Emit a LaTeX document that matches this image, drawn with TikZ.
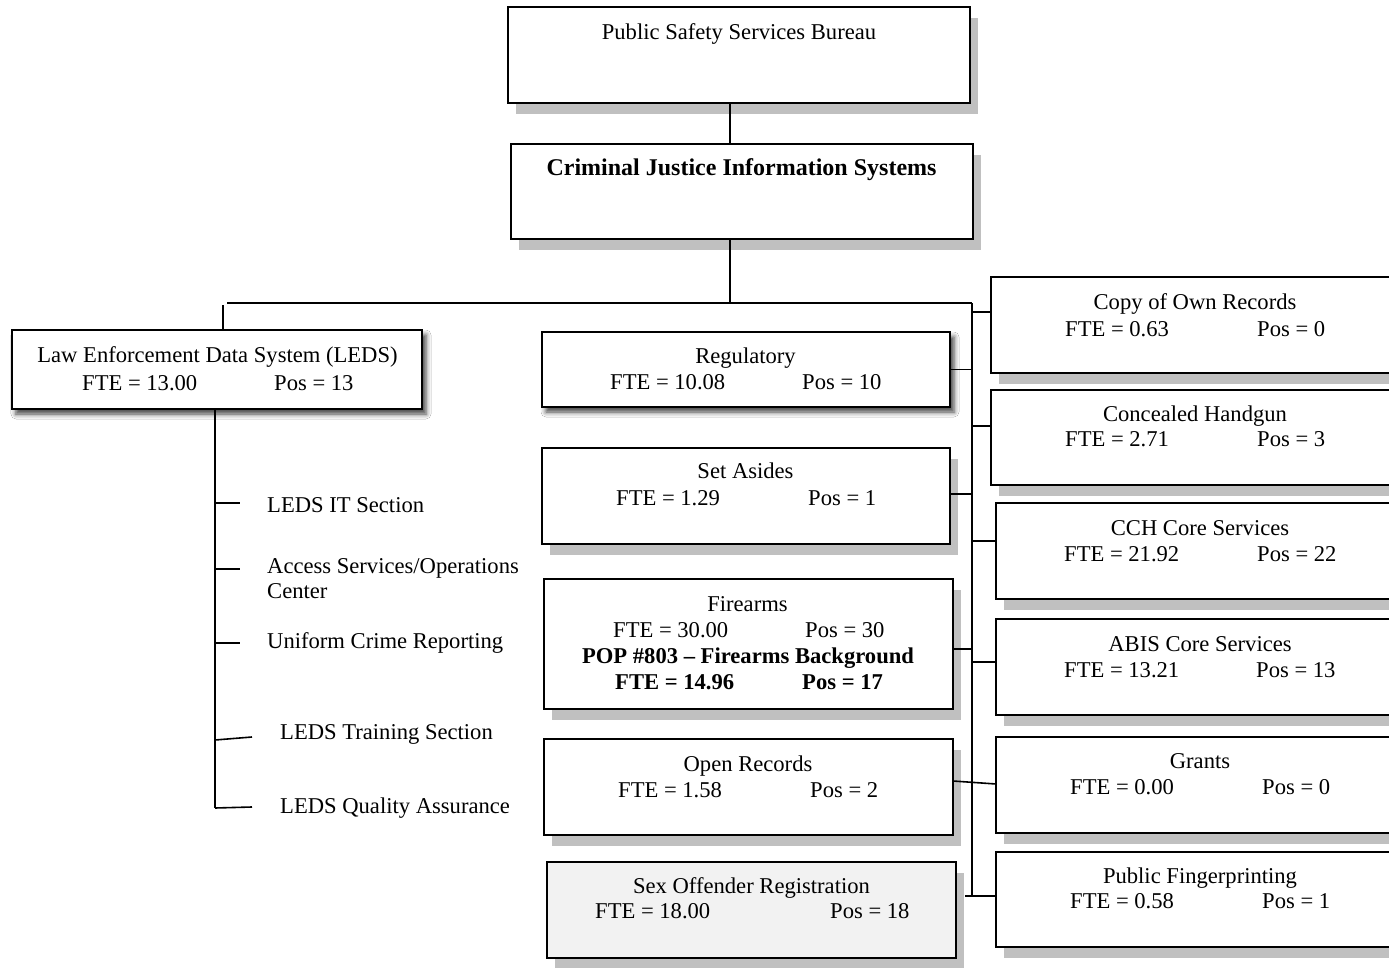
\documentclass[tikz,border=0pt]{standalone}
\usepackage{fontspec}
\setmainfont{Liberation Serif}
\usetikzlibrary{shadows,shadows.blur}
\definecolor{shadowgrey}{HTML}{C0C0C0}
\definecolor{sorfill}{HTML}{F2F2F2}
\tikzset{
  orgframe/.style={draw, line width=1.8pt, fill=white, inner sep=0pt, outer sep=0pt},
  hardshadow/.style={general shadow={fill=shadowgrey, shadow xshift=8pt, shadow yshift=-11pt}},
  softshadow/.style={blur shadow={shadow xshift=4pt, shadow yshift=-5pt, shadow blur radius=5pt, shadow opacity=75}},
  conn/.style={line width=1.6pt},
  lbl/.style={anchor=base, inner sep=0pt, font=\fontsize{22.6}{26}\selectfont},
  lblw/.style={lbl, anchor=base west},
  bold/.style={font=\fontsize{22.6}{26}\selectfont\bfseries},
}
\newcommand\orgbox[6]{\node[orgframe,#6,minimum width={#4-#2},minimum height={#5-#3}] (#1) at ({(#2+#4)/2},{(#3+#5)/2}) {};}
\begin{document}
\begin{tikzpicture}[x=1pt,y=-1pt]
\useasboundingbox (0,0) rectangle (1389,968);
\clip (0,0) rectangle (1389,968);
\fill[white] (0,0) rectangle (1389,968);

% boxes
\orgbox{psb}{508}{7}{970}{103}{hardshadow}
\orgbox{cjis}{511}{144}{973}{239}{hardshadow}
\orgbox{leds}{12}{330}{422}{409}{softshadow}
\orgbox{reg}{542}{332}{950}{407}{softshadow}
\orgbox{set}{542}{448}{950}{544}{hardshadow}
\orgbox{fire}{544}{579}{953}{709}{hardshadow}
\orgbox{open}{544}{739}{953}{835}{hardshadow}
\orgbox{sor}{547}{862}{956}{958}{hardshadow,fill=sorfill}
\orgbox{copy}{991}{277}{1420}{373}{hardshadow}
\orgbox{chl}{991}{390}{1420}{485}{hardshadow}
\orgbox{cch}{996}{503}{1420}{599}{hardshadow}
\orgbox{abis}{996}{619}{1420}{715}{hardshadow}
\orgbox{grants}{996}{737}{1420}{833}{hardshadow}
\orgbox{pf}{996}{852}{1420}{947}{hardshadow}

% named coordinates for connector routing
\coordinate (topx) at (730,303);
\coordinate (busTop) at (972,303);
\coordinate (busBot) at (972,896);
\coordinate (hStart) at (227,303);
\coordinate (ledsDrop) at (223,305);
\coordinate (ledsSpine) at (215,409);
\coordinate (ledsEnd) at (215,808);
\coordinate (tIT) at (240,503);
\coordinate (tAS) at (240,569);
\coordinate (tUC) at (240,643);
\coordinate (tTR) at (252,737);
\coordinate (tQA) at (252,807);

% connectors
\draw[conn] (topx |- psb.south) -- (topx |- cjis.north);
\draw[conn] (topx |- cjis.south) -- (topx);
\draw[conn] (hStart) -- (busTop);
\draw[conn] (ledsDrop) -- (ledsDrop |- leds.north);
\draw[conn] (busTop) -- (busBot);
\draw[conn] (ledsSpine) -- (ledsEnd);
\draw[conn] (ledsSpine |- tIT) -- (tIT);
\draw[conn] (ledsSpine |- tAS) -- (tAS);
\draw[conn] (ledsSpine |- tUC) -- (tUC);
\draw[conn] (215,740) -- (tTR);
\draw[conn] (ledsEnd) -- (tQA);
\draw[conn] (reg.east) -- (busTop |- reg.east);
\draw[conn] (set.east |- 0,494) -- (busTop |- 0,494);
\draw[conn] (fire.east |- 0,649) -- (busTop |- 0,649);
\draw[conn] (open.east |- 0,781) -- (grants.west |- 0,784);
\draw[conn] (sor.east |- busBot) ++(9,0) -- (pf.west |- busBot);
\draw[conn] (busTop |- 0,312) -- (copy.west |- 0,312);
\draw[conn] (busTop |- 0,426) -- (chl.west |- 0,426);
\draw[conn] (busTop |- 0,541) -- (cch.west |- 0,541);
\draw[conn] (busTop |- 0,662) -- (abis.west |- 0,662);

% texts
\node[lbl] (psbT) at (739,40) {Public Safety Services Bureau};
\node[lbl, font=\fontsize{24}{28}\selectfont\bfseries] (cjisT) at (741.5,176) {Criminal Justice Information Systems};

\node[lbl] (ledsT) at (217.5,362) {Law Enforcement Data System (LEDS)};
\node[lblw] (ledsF) at (82,390) {FTE = 13.00};
\node[lblw] (ledsP) at (274,390) {Pos = 13};

\node[lblw] (itT) at (267,512) {LEDS IT Section};
\node[lblw] (asT) at (267,573) {Access Services/Operations};
\node[lblw] (asT2) at (267,598) {Center};
\node[lblw] (ucT) at (267,648) {Uniform Crime Reporting};
\node[lblw] (trT) at (280,739) {LEDS Training Section};
\node[lblw] (qaT) at (280,813) {LEDS Quality Assurance};

\node[lbl] (regT) at (745.5,363) {Regulatory};
\node[lblw] (regF) at (610,389) {FTE = 10.08};
\node[lblw] (regP) at (802,389) {Pos = 10};

\node[lbl] (setT) at (745.5,478) {Set Asides};
\node[lblw] (setF) at (616,505) {FTE = 1.29};
\node[lblw] (setP) at (808,505) {Pos = 1};

\node[lbl] (fireT) at (747.5,611) {Firearms};
\node[lblw] (fireF) at (613,637) {FTE = 30.00};
\node[lblw] (fireP) at (805,637) {Pos = 30};
\node[lbl, bold] (popT) at (748,663) {POP \#803 -- Firearms Background};
\node[lblw, bold] (popF) at (615,689) {FTE = 14.96};
\node[lblw, bold] (popP) at (802,689) {Pos = 17};

\node[lbl] (openT) at (748,771) {Open Records};
\node[lblw] (openF) at (618,797) {FTE = 1.58};
\node[lblw] (openP) at (810,797) {Pos = 2};

\node[lbl] (sorT) at (751.5,893) {Sex Offender Registration};
\node[lblw] (sorF) at (595,918) {FTE = 18.00};
\node[lblw] (sorP) at (830,918) {Pos = 18};

\node[lbl] (copyT) at (1195,309) {Copy of Own Records};
\node[lblw] (copyF) at (1065,336) {FTE = 0.63};
\node[lblw] (copyP) at (1257,336) {Pos = 0};

\node[lbl] (chlT) at (1195,421) {Concealed Handgun};
\node[lblw] (chlF) at (1065,446) {FTE = 2.71};
\node[lblw] (chlP) at (1257,446) {Pos = 3};

\node[lbl] (cchT) at (1200,535) {CCH Core Services};
\node[lblw] (cchF) at (1064,561) {FTE = 21.92};
\node[lblw] (cchP) at (1257,561) {Pos = 22};

\node[lbl] (abisT) at (1200,651) {ABIS Core Services};
\node[lblw] (abisF) at (1064,677) {FTE = 13.21};
\node[lblw] (abisP) at (1256,677) {Pos = 13};

\node[lbl] (grantsT) at (1200,768) {Grants};
\node[lblw] (grantsF) at (1070,794) {FTE = 0.00};
\node[lblw] (grantsP) at (1262,794) {Pos = 0};

\node[lbl] (pfT) at (1200,883) {Public Fingerprinting};
\node[lblw] (pfF) at (1070,908) {FTE = 0.58};
\node[lblw] (pfP) at (1262,908) {Pos = 1};
\end{tikzpicture}
\end{document}
